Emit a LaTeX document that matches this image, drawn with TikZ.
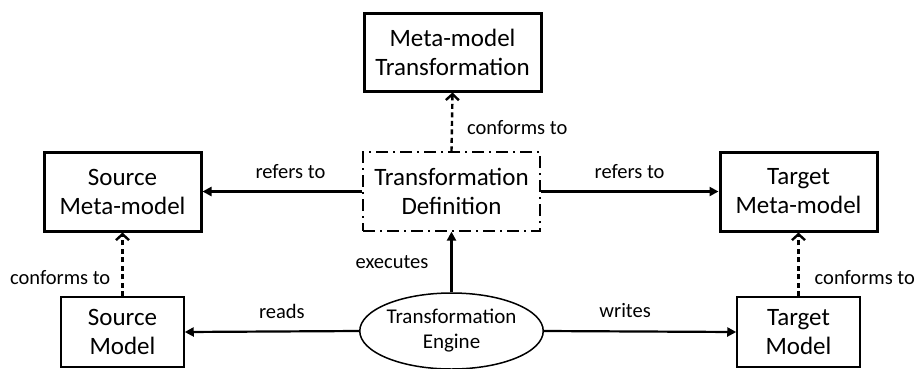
\documentclass[tikz,border=0pt]{standalone}
\usepackage{fontspec}
\setmainfont{Carlito}
\usetikzlibrary{arrows.meta,shapes.geometric}
\tikzset{
  thickbox/.style={draw, line width=3pt, inner sep=0pt, align=center, font=\fontsize{25}{29}\selectfont},
  thinbox/.style={draw, line width=1.5pt, inner sep=0pt, align=center, font=\fontsize{25}{29}\selectfont},
  defbox/.style={draw, line width=1.3pt, dash pattern=on 12pt off 5pt on 2pt off 5pt, inner sep=0pt, align=center, font=\fontsize{25}{29}\selectfont},
  enginebox/.style={draw, ellipse, line width=1.5pt, inner sep=0pt, align=center, font=\fontsize{21}{25}\selectfont},
  solidarrow/.style={line width=2.2pt, -{Triangle[length=9pt,width=9pt]}},
  conformarrow/.style={line width=2.4pt, dash pattern=on 5pt off 3.5pt, -{Straight Barb[length=6pt,width=13pt,line width=2.4pt]}},
  lbl/.style={font=\fontsize{20.5}{24}\selectfont, inner sep=0pt}
}
\begin{document}
\begin{tikzpicture}[x=1pt,y=-1pt]
\useasboundingbox (0,0) rectangle (919,368);
\node[thickbox, minimum width=177pt, minimum height=78pt] (mt) at (452.5,52) {Meta-model\\Transformation};
\node[thickbox, minimum width=157pt, minimum height=79pt] (smm) at (122.5,191.5) {Source\\Meta-model};
\node[defbox, minimum width=177pt, minimum height=79pt] (td) at (451.5,191.5) {Transformation\\Definition};
\node[thickbox, minimum width=157pt, minimum height=79pt] (tmm) at (798.5,191.5) {Target\\Meta-model};
\node[thinbox, minimum width=123pt, minimum height=70pt] (sm) at (122.5,332) {Source\\Model};
\node[thinbox, minimum width=123pt, minimum height=70pt] (tm) at (798.5,332) {Target\\Model};
\node[enginebox, minimum width=177pt, minimum height=76pt] (eng) at (451.5,331) {Transformation\\Engine};

\draw[solidarrow] (td.west) -- (smm.east) node[lbl, midway, above=12pt, xshift=8pt] {refers to};
\draw[solidarrow] (td.east) -- (tmm.west) node[lbl, midway, above=12pt] {refers to};
\draw[solidarrow] (eng.west) -- (sm.east) node[lbl, midway, above=12pt, xshift=10pt] {reads};
\draw[solidarrow] (eng.east) -- (tm.west) node[lbl, midway, above=13pt, xshift=-15pt] {writes};
\draw[solidarrow] (eng.north) -- (td.south) node[lbl, midway, left=22pt] {executes};

\draw[conformarrow] (sm.north) -- (smm.south) node[lbl, pos=0.3, left=11pt] {conforms to};
\draw[conformarrow] (tm.north) -- (tmm.south) node[lbl, pos=0.3, right=15pt] {conforms to};
\draw[conformarrow] (td.north) -- (mt.south) node[lbl, pos=0.4, right=14pt] {conforms to};
\end{tikzpicture}
\end{document}
